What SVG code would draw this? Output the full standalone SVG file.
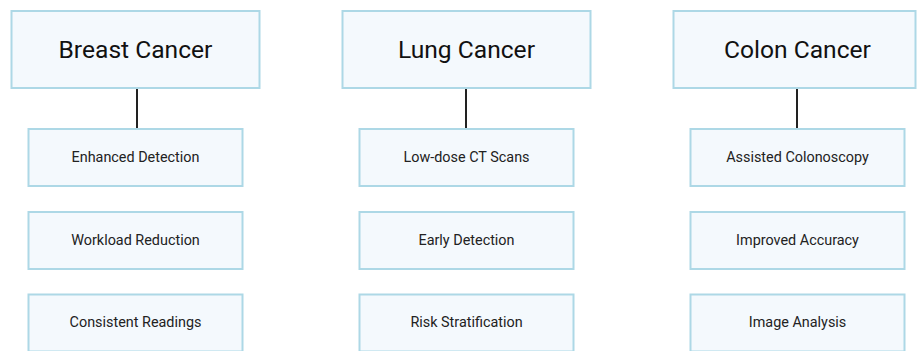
<svg xmlns="http://www.w3.org/2000/svg" width="917" height="351" viewBox="0 0 917 351">
<style>
.box{fill:#f4f9fd;stroke:#add8e6;stroke-width:2}
.t1{font-family:Roboto,"Liberation Sans",sans-serif;font-size:24.6px;fill:#111;text-anchor:middle;dominant-baseline:central}
.t2{font-family:Roboto,"Liberation Sans",sans-serif;font-size:14.4px;fill:#222;text-anchor:middle;dominant-baseline:central}
.edge{stroke:#222;stroke-width:2;fill:none}
</style>
<rect width="917" height="351" fill="#fff"/>
<g id="connectors">
<line class="edge" x1="137" y1="88" x2="137" y2="129"/>
<line class="edge" x1="466" y1="88" x2="466" y2="129"/>
<line class="edge" x1="797" y1="88" x2="797" y2="129"/>
</g>
<g id="breast"><rect class="box" x="11.5" y="11" width="248" height="77"/><text class="t1" x="135.5" y="49">Breast Cancer</text></g>
<g id="breast1"><rect class="box" x="28.5" y="129" width="214" height="57"/><text class="t2" x="135.5" y="157">Enhanced Detection</text></g>
<g id="breast2"><rect class="box" x="28.5" y="212" width="214" height="57"/><text class="t2" x="135.5" y="240">Workload Reduction</text></g>
<g id="breast3"><rect class="box" x="28.5" y="294.5" width="214" height="57"/><text class="t2" x="135.5" y="322">Consistent Readings</text></g>
<g id="lung"><rect class="box" x="342.5" y="11" width="248" height="77"/><text class="t1" x="466.5" y="49">Lung Cancer</text></g>
<g id="lung1"><rect class="box" x="359.5" y="129" width="214" height="57"/><text class="t2" x="466.5" y="157">Low-dose CT Scans</text></g>
<g id="lung2"><rect class="box" x="359.5" y="212" width="214" height="57"/><text class="t2" x="466.5" y="240">Early Detection</text></g>
<g id="lung3"><rect class="box" x="359.5" y="294.5" width="214" height="57"/><text class="t2" x="466.5" y="322">Risk Stratification</text></g>
<g id="colon"><rect class="box" x="673.5" y="11" width="242" height="77"/><text class="t1" x="797.5" y="49">Colon Cancer</text></g>
<g id="colon1"><rect class="box" x="690.5" y="129" width="214" height="57"/><text class="t2" x="797.5" y="157">Assisted Colonoscopy</text></g>
<g id="colon2"><rect class="box" x="690.5" y="212" width="214" height="57"/><text class="t2" x="797.5" y="240">Improved Accuracy</text></g>
<g id="colon3"><rect class="box" x="690.5" y="294.5" width="214" height="57"/><text class="t2" x="797.5" y="322">Image Analysis</text></g>
</svg>
